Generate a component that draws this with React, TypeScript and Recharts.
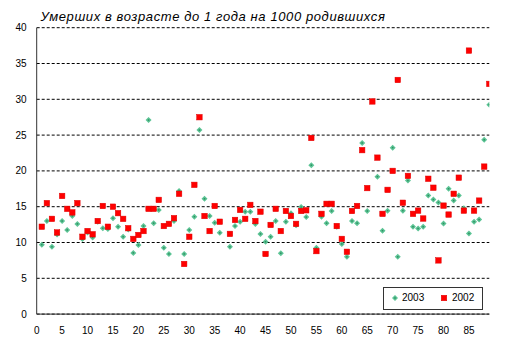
import React from "react";
import { ScatterChart, Scatter, XAxis, YAxis, CartesianGrid } from "recharts";

const regions = [
  1, 2, 3, 4, 5, 6, 7, 8, 9, 10, 11, 12, 13, 14, 15, 16, 17, 18, 19, 20,
  21, 22, 23, 24, 25, 26, 27, 28, 29, 30, 31, 32, 33, 34, 35, 36, 37, 38, 39, 40,
  41, 42, 43, 44, 45, 46, 47, 48, 49, 50, 51, 52, 53, 54, 55, 56, 57, 58, 59, 60,
  61, 62, 63, 64, 65, 66, 67, 68, 69, 70, 71, 72, 73, 74, 75, 76, 77, 78, 79, 80,
  81, 82, 83, 84, 85, 86, 87, 88, 89,
];

const values2002: (number | null)[] = [
  12.2, 15.5, 13.3, 11.4, 16.5, 14.7, 14.2, 15.5, 10.8, 11.6,
  11.15, 13.0, 15.1, 12.2, 15.0, 14.1, 13.3, 12.0, 10.5, 11.05,
  11.6, 14.7, 14.7, 15.95, 12.3, 12.6, 13.4, 16.8, 7.0, 10.8,
  18.05, 27.5, 13.7, 11.6, 15.1, 12.9, null, 11.2, 13.15, 14.55,
  13.3, 15.25, 13.0, 14.3, 8.4, 12.45, 14.7, 11.6, 14.4, 13.7,
  12.6, 14.4, 14.5, 24.6, 8.8, 14.0, 15.4, 15.4, 12.3, 10.5,
  8.7, 14.4, 15.1, 22.9, 17.6, 29.7, 21.85, 14.0, 17.35, 20.0,
  32.7, 15.55, 19.3, 14.0, 14.45, 13.35, 18.9, 17.65, 7.5, 15.15,
  13.9, 16.8, 19.05, 14.45, 36.8, 14.45, 15.85, 20.6, 32.15,
];

const values2003: (number | null)[] = [
  9.7, 13.0, 9.4, 11.1, 13.0, 11.75, 13.7, 12.6, 10.5, 11.4,
  10.7, 12.9, 12.0, 11.9, 13.4, 12.2, 10.8, 11.8, 8.55, 9.65,
  12.3, 27.1, 12.7, 14.55, 9.25, 8.4, 13.0, 17.2, 8.4, 11.75,
  13.6, 25.7, 16.1, 13.7, 12.75, 11.35, null, 9.4, 12.3, 12.9,
  14.3, 14.3, 12.6, 11.2, 10.1, 10.8, 13.0, 8.5, 12.9, 14.1,
  12.4, 14.95, 13.55, 20.8, 9.25, 13.6, 12.7, 14.4, 12.2, 9.8,
  8.0, 13.0, 12.7, 23.9, 14.4, null, 19.2, 11.65, 14.45, 23.25,
  8.0, 14.45, 18.65, 12.2, 11.95, 12.2, 16.55, 16.0, 15.6, 12.65,
  17.5, 15.85, 16.55, 14.8, 11.25, 12.9, 13.2, 24.35, 29.25,
];

const xTicks = [0, 5, 10, 15, 20, 25, 30, 35, 40, 45, 50, 55, 60, 65, 70, 75, 80, 85];
const yTicks = [0, 5, 10, 15, 20, 25, 30, 35, 40];

const series2003Name = "2003";
const series2002Name = "2002";
const titleText = "Умерших в возрасте до 1 года на 1000 родившихся";

const toPoints = (vals: (number | null)[]) =>
  regions
    .map((r, i) => ({ x: r, y: vals[i] }))
    .filter((p) => p.y !== null && p.y !== undefined);

const data2002 = toPoints(values2002);
const data2003 = toPoints(values2003);

const GREEN = "#5cc495";
const GREEN_DARK = "#2f8f62";
const RED = "#ff0000";
const FONT = "'Liberation Sans', Arial, sans-serif";

const Diamond = (props: any) => {
  const { cx, cy } = props;
  if (cx == null || cy == null) return null;
  const r = 3;
  return (
    <g>
      <path d={`M${cx},${cy - r}L${cx + r},${cy}L${cx},${cy + r}L${cx - r},${cy}Z`} fill={GREEN} />
      <rect x={cx - 0.75} y={cy - 0.75} width={1.5} height={1.5} fill={GREEN_DARK} />
    </g>
  );
};

const Square = (props: any) => {
  const { cx, cy } = props;
  if (cx == null || cy == null) return null;
  const s = 5.5;
  return <rect x={cx - s / 2} y={cy - s / 2} width={s} height={s} fill={RED} stroke="#e00000" strokeWidth={0.5} />;
};

const LegendBox = () => (
  <div
    style={{
      position: "absolute",
      left: 375,
      top: 279,
      width: 100,
      height: 23,
      boxSizing: "border-box",
      border: "1px solid #333",
      background: "#fff",
      fontFamily: FONT,
      fontSize: 10,
      color: "#000",
    }}
  >
    <svg width={100} height={23} style={{ position: "absolute", left: -1, top: -1 }}>
      <Diamond cx={12} cy={11} />
      <Square cx={61} cy={11} />
    </svg>
    <span style={{ position: "absolute", left: 18, top: 4, lineHeight: "12px" }}>{series2003Name}</span>
    <span style={{ position: "absolute", left: 68, top: 4, lineHeight: "12px" }}>{series2002Name}</span>
  </div>
);

export default function App() {
  const W = 496;
  const H = 341;
  const tickStyle = { fontFamily: FONT, fontSize: 10, fill: "#000" };
  return (
    <div style={{ position: "relative", width: W, height: H, background: "#fff" }}>
      <div
        style={{
          position: "absolute",
          left: 32.5,
          top: 2,
          fontFamily: FONT,
          fontStyle: "italic",
          fontSize: 13,
          letterSpacing: 0.6,
          lineHeight: "14px",
          color: "#000",
          whiteSpace: "nowrap",
        }}
      >
        {titleText}
      </div>
      <ScatterChart width={W} height={H} margin={{ top: 19.7, right: 14.7, left: 0, bottom: 9.9 }}>
        <CartesianGrid horizontal={true} vertical={false} stroke="#000" strokeDasharray="3 2" />
        <XAxis
          type="number"
          dataKey="x"
          domain={[0, 89]}
          ticks={xTicks}
          interval={0}
          tickLine={false}
          axisLine={{ stroke: "#333" }}
          tick={tickStyle}
          tickSize={10}
          tickMargin={3}
          height={25}
          allowDataOverflow={true}
        />
        <XAxis
          xAxisId="top"
          orientation="top"
          type="number"
          domain={[0, 89]}
          tick={false}
          tickLine={false}
          axisLine={{ stroke: "#333" }}
          height={0}
          allowDataOverflow={true}
        />
        <YAxis
          type="number"
          dataKey="y"
          domain={[0, 40]}
          ticks={yTicks}
          interval={0}
          tickLine={false}
          axisLine={{ stroke: "#333" }}
          tick={tickStyle}
          tickSize={8}
          tickMargin={2}
          width={28.7}
          allowDataOverflow={true}
        />
        <YAxis
          yAxisId="right"
          orientation="right"
          type="number"
          domain={[0, 40]}
          tick={false}
          tickLine={false}
          axisLine={{ stroke: "#333" }}
          width={0}
          allowDataOverflow={true}
        />
        <Scatter name={series2003Name} data={data2003} shape={<Diamond />} isAnimationActive={false} />
        <Scatter name={series2002Name} data={data2002} shape={<Square />} isAnimationActive={false} />
      </ScatterChart>
      <LegendBox />
    </div>
  );
}
